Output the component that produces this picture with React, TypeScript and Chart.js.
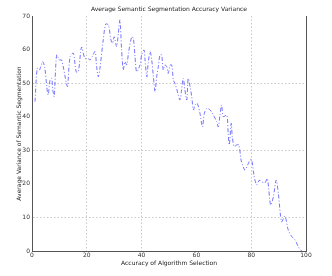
import React, { useEffect, useRef } from "react";
import { Chart, registerables } from "chart.js";

Chart.register(...registerables);

const titleText = "Average Semantic Segmentation Accuracy Variance";
const xTitle = "Accuracy of Algorithm Selection";
const yTitle = "Average Variance of Semantic Segmentation";

const accuracy = [
  1.1, 1.9, 2.7, 3.9, 4.7, 5.4, 5.9, 6.6, 7.2, 7.6, 8.1, 9.0, 10.0, 10.8, 12.7, 13.0, 13.9, 15.1,
  16.1, 16.9, 18.1, 19.3, 20.4, 21.2, 22.0, 23.0, 23.6, 24.2, 24.8, 26.0, 26.9, 27.9, 28.8, 29.4,
  30.0, 30.9, 31.5, 32.1, 32.7, 33.3, 33.9, 34.6, 35.2, 36.4, 37.0, 37.6, 38.2, 39.4, 40.0, 40.9,
  41.2, 41.9, 42.4, 43.1, 43.7, 44.3, 44.9, 45.5, 46.1, 46.7, 47.3, 47.9, 48.5, 49.2, 49.7, 50.4,
  51.0, 51.6, 52.2, 53.4, 54.0, 54.6, 55.2, 55.8, 56.5, 57.0, 57.7, 58.3, 58.9, 59.5, 60.3, 61.3,
  62.2, 62.9, 63.8, 65.0, 66.2, 67.4, 68.0, 68.6, 69.2, 69.8, 71.1, 71.6, 72.0, 72.7, 73.1, 73.8,
  74.7, 75.5, 76.3, 77.1, 77.7, 78.7, 79.6, 80.2, 81.0, 82.0, 83.0, 83.8, 85.0, 85.9, 87.1, 88.1,
  89.1, 89.9, 91.1, 92.3, 93.5, 94.8, 96.0, 97.2, 98.4,
];

const variance = [
  44.5, 54.4, 53.9, 56.4, 54.4, 48.9, 46.5, 51.0, 51.4, 48.0, 46.0, 58.4, 56.9, 56.9, 49.4, 49.0, 57.9, 58.9,
  53.4, 53.4, 60.7, 57.4, 57.4, 56.9, 57.9, 59.4, 54.9, 51.9, 54.4, 62.9, 67.6, 67.3, 62.9, 61.9,
  63.8, 60.9, 64.8, 68.8, 59.9, 53.9, 56.4, 55.4, 58.9, 63.8, 63.3, 57.9, 53.4, 55.4, 58.4, 59.9,
  57.4, 51.9, 55.9, 59.4, 56.9, 51.9, 47.5, 51.9, 54.9, 58.4, 58.4, 53.9, 55.4, 54.9, 52.9, 55.4,
  55.4, 50.9, 49.9, 46.5, 45.0, 48.0, 51.4, 48.0, 45.0, 51.4, 48.9, 46.0, 42.0, 43.5, 44.0, 41.0,
  37.0, 41.0, 42.5, 42.0, 40.5, 38.5, 37.0, 40.5, 43.5, 40.0, 40.5, 35.0, 31.6, 38.0, 34.0, 31.1,
  31.6, 31.6, 27.1, 25.1, 24.1, 25.6, 27.1, 27.1, 22.6, 19.7, 21.1, 20.6, 20.3, 21.6, 13.7, 16.2,
  21.1, 17.2, 8.7, 10.4, 6.3, 4.3, 3.3, 1.3, 0.0,
];

const xGridValues = [20, 40, 80];
const yGridValues = [10, 30, 50];

const FONT = "'DejaVu Sans', sans-serif";

const rightBorder = {
  id: "rightBorder",
  afterDraw(chart: any) {
    const { ctx, chartArea } = chart;
    ctx.save();
    ctx.strokeStyle = "#555";
    ctx.lineWidth = 1;
    ctx.beginPath();
    ctx.moveTo(Math.round(chartArea.right) + 0.5, chartArea.top);
    ctx.lineTo(Math.round(chartArea.right) + 0.5, chartArea.bottom);
    ctx.stroke();
    ctx.restore();
  },
};

export default function App() {
  const ref = useRef<HTMLCanvasElement | null>(null);
  useEffect(() => {
    document.body.style.margin = "0";
    if (!ref.current) return;
    const data = accuracy.map((x, i) => ({ x, y: variance[i] }));
    const chart = new Chart(ref.current, {
      type: "line",
      data: {
        datasets: [
          {
            data,
            borderColor: "rgba(60,60,255,0.7)",
            borderWidth: 1,
            borderDash: [4, 2, 1, 2],
            pointRadius: 0,
            tension: 0.3,
            fill: false,
          },
        ],
      },
      options: {
        animation: false,
        responsive: false,
        layout: { padding: { left: 0, right: 26, top: 0, bottom: 0 } },
        plugins: {
          legend: { display: false },
          tooltip: { enabled: false },
          title: {
            display: true,
            text: titleText,
            fullSize: false,
            color: "#222",
            font: { family: FONT, size: 6, weight: "normal" },
            padding: { top: 6, bottom: 2.8 },
          },
        },
        scales: {
          x: {
            type: "linear",
            min: 0,
            max: 100,
            afterFit: (s: any) => {
              s.height = 25;
            },
            ticks: {
              stepSize: 20,
              padding: 1,
              color: "#333",
              font: { family: FONT, size: 6 },
              maxRotation: 0,
            },
            grid: {
              drawTicks: false,
              color: (c: any) =>
                c.tick && xGridValues.includes(c.tick.value) ? "#c8c8c8" : "rgba(0,0,0,0)",
            },
            border: { display: true, color: "#555", width: 1, dash: [1.5, 2] },
            title: {
              display: true,
              text: xTitle,
              color: "#222",
              font: { family: FONT, size: 6 },
              padding: { top: 0, bottom: 9.4 },
            },
          },
          y: {
            type: "linear",
            min: 0,
            max: 70,
            afterFit: (s: any) => {
              s.width = 32;
            },
            ticks: {
              stepSize: 10,
              padding: 2,
              color: "#333",
              font: { family: FONT, size: 6 },
            },
            grid: {
              drawTicks: false,
              color: (c: any) =>
                c.tick && yGridValues.includes(c.tick.value) ? "#c8c8c8" : "rgba(0,0,0,0)",
            },
            border: { display: true, color: "#555", width: 1, dash: [1.5, 2] },
            title: {
              display: true,
              text: yTitle,
              color: "#222",
              font: { family: FONT, size: 6 },
              padding: { top: 16, bottom: 0 },
            },
          },
        },
      },
      plugins: [rightBorder],
    });
    return () => chart.destroy();
  }, []);
  return (
    <div style={{ width: 332, height: 276, position: "relative" }}>
      <canvas ref={ref} width={332} height={276} />
    </div>
  );
}
